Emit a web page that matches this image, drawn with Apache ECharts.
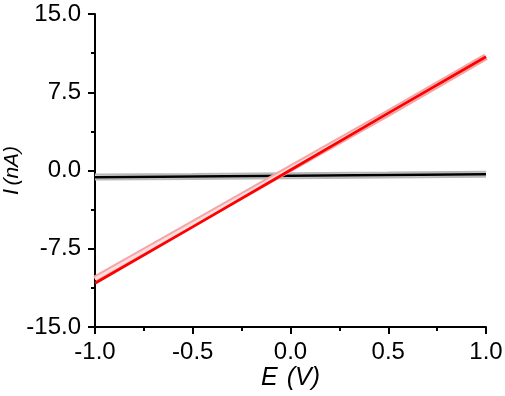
<!DOCTYPE html>
<html>
<head>
<meta charset="utf-8">
<script src="https://cdn.jsdelivr.net/npm/echarts@6/dist/echarts.min.js"></script>
<style>html,body{margin:0;padding:0;background:#fff}#c{width:505px;height:396px}</style>
</head>
<body>
<div id="c"></div>
<script>
var xTicks = ['-1.0', '-0.5', '0.0', '0.5', '1.0'];
var yTicks = ['-15.0', '-7.5', '0.0', '7.5', '15.0'];
var E = [-1.0, -0.5, 0.0, 0.5, 1.0];
var redFit = [-10.8, -5.4, 0.05, 5.5, 10.9];
var redRaw = [-10.4, -5.1, 0.2, 5.5, 10.9];
var blackFit = [-0.65, -0.58, -0.5, -0.44, -0.37];
var blackRaw = [-0.63, -0.57, -0.5, -0.44, -0.37];

function pairs(xs, ys) { return xs.map(function (x, i) { return [x, ys[i]]; }); }

var chart = echarts.init(document.getElementById('c'), null, { renderer: 'canvas' });
var font = 'Liberation Sans, Arial, sans-serif';
chart.setOption({
  animation: false,
  backgroundColor: '#fff',
  grid: { left: 95, right: 19, top: 14, bottom: 69, containLabel: false, outerBoundsMode: 'none' },
  xAxis: {
    type: 'value', min: -1, max: 1, interval: 0.5,
    name: '{i|E}{s| }{i|(V)}', nameLocation: 'middle', nameGap: 39, nameMoveOverlap: false,
    nameTextStyle: { rich: {
      i: { fontStyle: 'italic', fontSize: 25, fontFamily: font, color: '#000' },
      s: { fontSize: 25, width: 9, fontFamily: font } } },
    axisLine: { show: true, onZero: false, lineStyle: { color: '#000', width: 2 } },
    axisTick: { show: true, inside: false, length: 7, lineStyle: { color: '#000', width: 2 } },
    minorTick: { show: true, splitNumber: 2, length: 4, lineStyle: { color: '#000', width: 2 } },
    splitLine: { show: false },
    axisLabel: { margin: 13, fontSize: 24, color: '#000', fontFamily: font,
      formatter: function (v) { var i = Math.round((v + 1) / 0.5); return xTicks[i]; } }
  },
  yAxis: {
    type: 'value', min: -15, max: 15, interval: 7.5,
    name: '{a|I} {b|(nA)}', nameLocation: 'middle', nameGap: 72, nameMoveOverlap: false,
    nameTextStyle: { rich: {
      a: { fontStyle: 'italic', fontSize: 22, fontFamily: font, color: '#000' },
      b: { fontStyle: 'italic', fontSize: 21, fontFamily: font, color: '#000' } } },
    axisLine: { show: true, onZero: false, lineStyle: { color: '#000', width: 2 } },
    axisTick: { show: true, inside: false, length: 7, lineStyle: { color: '#000', width: 2 } },
    minorTick: { show: true, splitNumber: 2, length: 4, lineStyle: { color: '#000', width: 2 } },
    splitLine: { show: false },
    axisLabel: { margin: 14, fontSize: 24, color: '#000', fontFamily: font,
      formatter: function (v) { var i = Math.round((v + 15) / 7.5); return yTicks[i]; } }
  },
  series: [
    { type: 'line', data: pairs(E, blackRaw), symbol: 'none', silent: true,
      lineStyle: { color: '#b8b8b8', width: 7 }, z: 1 },
    { type: 'line', data: pairs(E, blackRaw), symbol: 'none', silent: true,
      lineStyle: { color: '#e6e6e6', width: 3 }, z: 1 },
    { type: 'line', data: pairs(E, blackFit), symbol: 'none', silent: true,
      lineStyle: { color: '#000', width: 2.5 }, z: 2 },
    { type: 'line', data: pairs(E, redRaw), symbol: 'none', silent: true,
      lineStyle: { color: '#f4a6a6', width: 7 }, z: 3 },
    { type: 'line', data: pairs(E, redRaw), symbol: 'none', silent: true,
      lineStyle: { color: '#fbdede', width: 3 }, z: 3 },
    { type: 'line', data: pairs(E, redFit), symbol: 'none', silent: true,
      lineStyle: { color: '#ff0000', width: 2.8 }, z: 4 }
  ]
});
</script>
</body>
</html>
